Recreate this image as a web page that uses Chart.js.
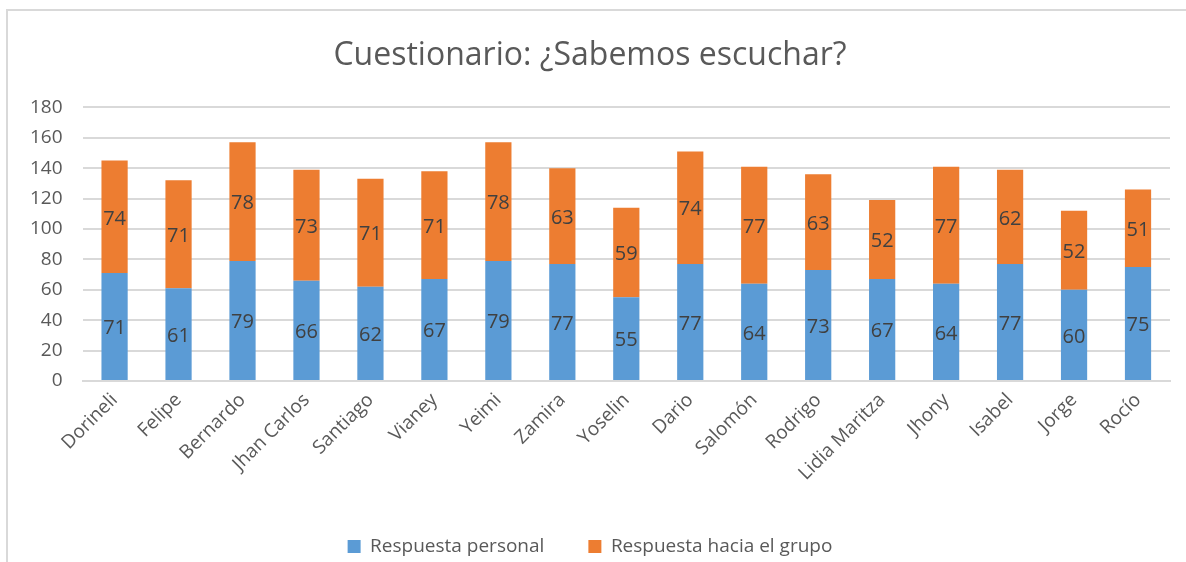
<!DOCTYPE html>
<html>
<head>
<meta charset="utf-8">
<script src="https://cdn.jsdelivr.net/npm/chart.js@4"></script>
<style>
  body { margin: 0; background: #fff; }
  #marco {
    position: absolute; left: 6px; top: 9px; width: 1180px; height: 553px;
    border-left: 2px solid #d9d9d9; border-top: 2px solid #d9d9d9;
  }
  #caja { position: absolute; left: 0; top: 0; width: 1186px; height: 562px; }
</style>
</head>
<body>
<div id="marco"></div>
<div id="caja"><canvas id="chart-barra"></canvas></div>
<script>
// datos
const alumnos = ["Dorineli", "Felipe", "Bernardo", "Jhan Carlos", "Santiago", "Vianey", "Yeimi",
  "Zamira", "Yoselin", "Dario", "Salomón", "Rodrigo", "Lidia Maritza", "Jhony", "Isabel", "Jorge", "Rocío"];
const personal = [71, 61, 79, 66, 62, 67, 79, 77, 55, 77, 64, 73, 67, 64, 77, 60, 75];
const grupo = [74, 71, 78, 73, 71, 71, 78, 63, 59, 74, 77, 63, 52, 77, 62, 52, 51];
const ticksY = [0, 20, 40, 60, 80, 100, 120, 140, 160, 180];

const fuente = "'Open Sans', sans-serif";
const gris = "#595959";

// etiquetas en el centro de cada barra
const etiquetas = {
  id: "etiquetas",
  afterDatasetsDraw(chart) {
    const ctx = chart.ctx;
    ctx.save();
    ctx.font = "20px " + fuente;
    ctx.fillStyle = "#404040";
    ctx.textAlign = "center";
    ctx.textBaseline = "middle";
    chart.data.datasets.forEach((ds, i) => {
      chart.getDatasetMeta(i).data.forEach((bar, j) => {
        const centro = (bar.y + bar.base) / 2;
        ctx.fillText(ds.data[j], bar.x, centro + 2);
      });
    });
    ctx.restore();
  },
};

const contenedorChartBarra = document.querySelector("#chart-barra").getContext("2d");

const dataChart = {
  labels: alumnos,
  datasets: [
    {
      label: "Respuesta personal",
      data: personal,
      backgroundColor: "#5B9BD5",
      barPercentage: 0.41,
      categoryPercentage: 1,
    },
    {
      label: "Respuesta hacia el grupo",
      data: grupo,
      backgroundColor: "#ED7D31",
      barPercentage: 0.41,
      categoryPercentage: 1,
    },
  ],
};

const configuracion = {
  type: "bar",
  data: dataChart,
  plugins: [etiquetas],
  options: {
    responsive: true,
    maintainAspectRatio: false,
    animation: false,
    layout: { padding: { left: 10, right: 16, top: 29, bottom: -4 } },
    plugins: {
      title: {
        display: true,
        text: "Cuestionario: ¿Sabemos escuchar?",
        color: gris,
        font: { family: fuente, size: 32, weight: "normal" },
        padding: { top: 8, bottom: 32 },
      },
      legend: {
        position: "bottom",
        labels: {
          color: gris,
          font: { family: fuente, size: 19 },
          boxWidth: 13,
          boxHeight: 13,
          padding: 44,
        },
      },
      tooltip: { enabled: false },
    },
    scales: {
      x: {
        stacked: true,
        grid: { display: false, drawTicks: false },
        border: { color: "#d9d9d9", width: 2 },
        ticks: {
          color: gris,
          font: { family: fuente, size: 19 },
          maxRotation: 45,
          minRotation: 45,
          padding: 8,
        },
      },
      y: {
        stacked: true,
        min: 0,
        max: 180,
        afterBuildTicks: (eje) => { eje.ticks = ticksY.map((v) => ({ value: v })); },
        grid: { color: "#d9d9d9", lineWidth: 2, drawTicks: false },
        border: { display: false },
        ticks: {
          color: gris,
          font: { family: fuente, size: 19 },
          padding: 20,
        },
      },
    },
  },
};

const chartBarra = new Chart(contenedorChartBarra, configuracion);
</script>
</body>
</html>
